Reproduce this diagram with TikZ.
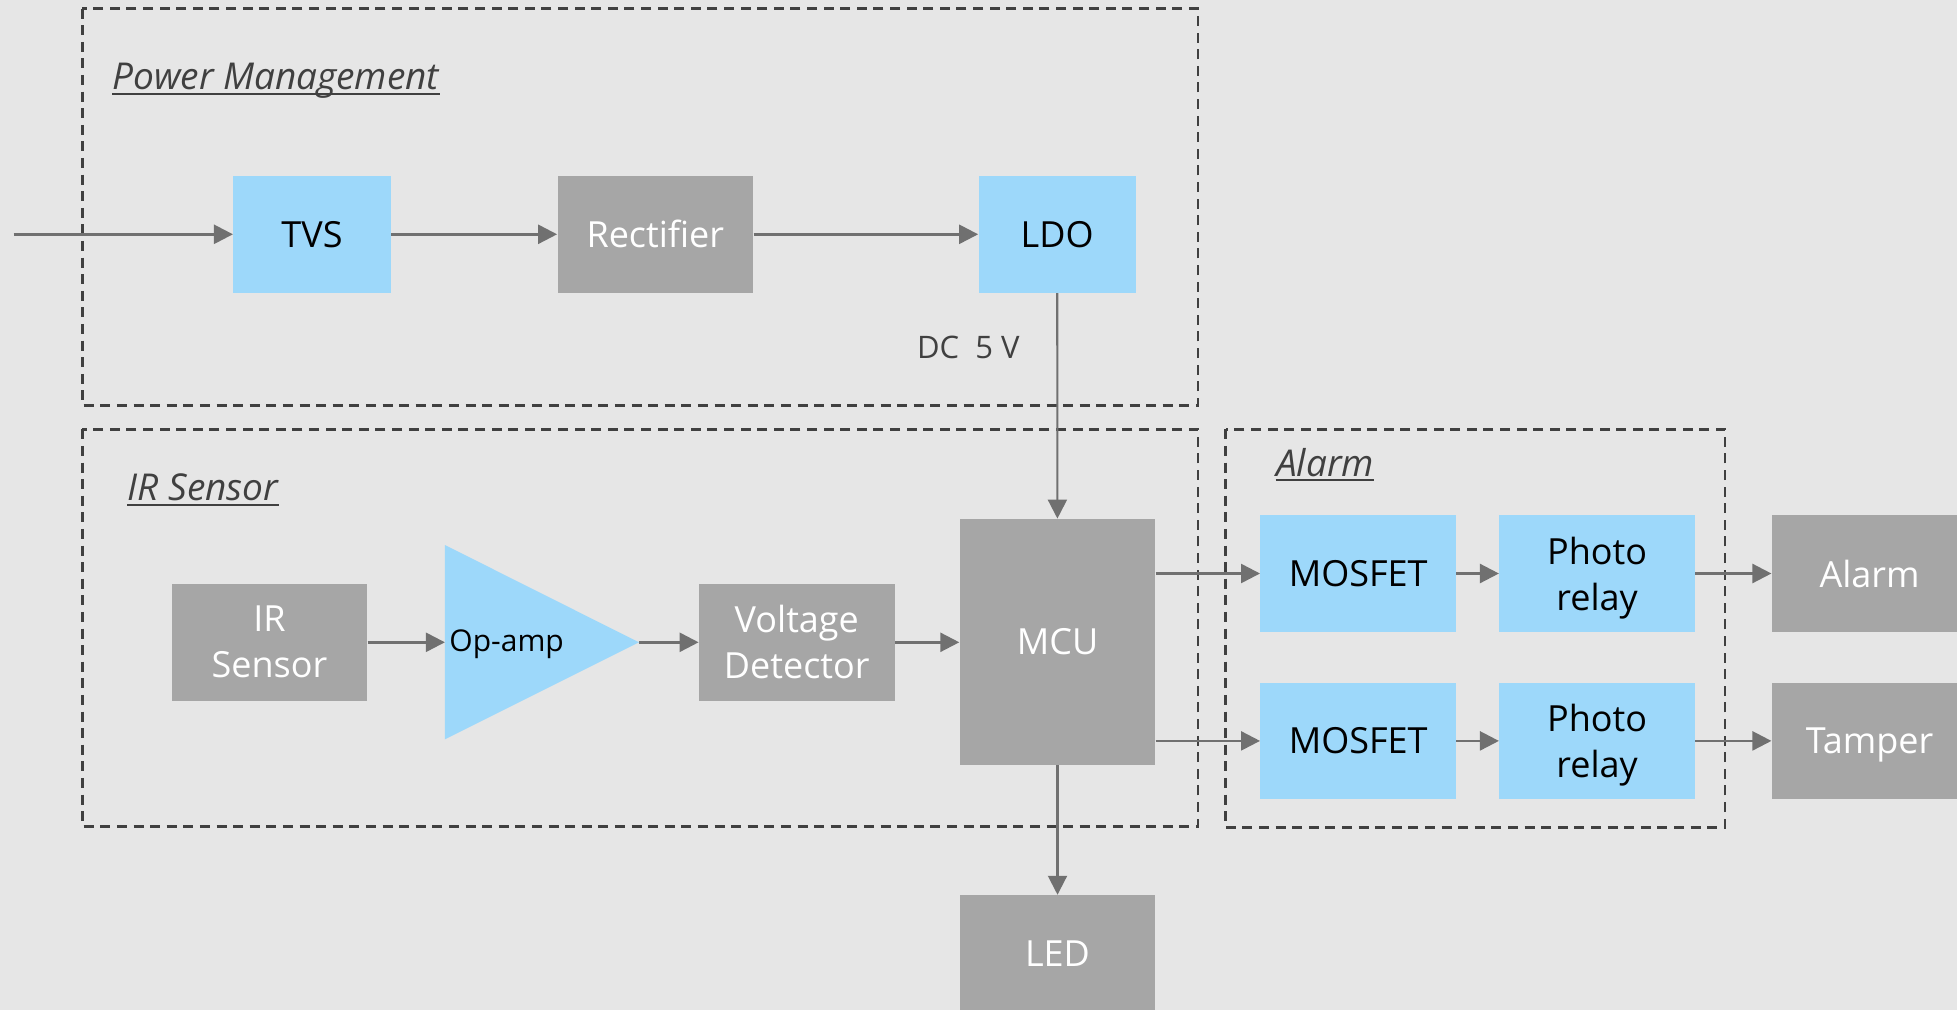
\documentclass[tikz,border=0pt]{standalone}
\usepackage{fontspec}
\setmainfont{Open Sans}
\usetikzlibrary{arrows.meta}
\definecolor{bg}{HTML}{E6E6E6}
\definecolor{boxblue}{HTML}{9DD8FA}
\definecolor{boxgray}{HTML}{A6A6A6}
\definecolor{arrowgray}{HTML}{707070}
\definecolor{dashgray}{HTML}{404040}
\newcommand{\nodepth}[1]{\raisebox{0pt}[\height][0pt]{#1}}
\begin{document}
\begin{tikzpicture}[x=0.5pt,y=-0.5pt,
  blk/.style={rectangle, inner sep=0pt, minimum width=97.8pt, minimum height=58.35pt, align=center, font=\fontsize{18}{23}\selectfont},
  bluebox/.style={blk, fill=boxblue, text=black},
  graybox/.style={blk, fill=boxgray, text=white},
  conn/.style={draw=arrowgray, line width=1.25pt, -{Triangle[length=9.5pt,width=9.5pt]}},
  grp/.style={draw=dashgray, line width=1.3pt, dash pattern=on 5pt off 3.3pt},
  grptitle/.style={inner sep=0pt, text=dashgray, font=\fontsize{18.5}{22}\selectfont\itshape},
  uline/.style={draw=dashgray, line width=1pt}
]
\useasboundingbox (0,0) rectangle (1957,1010);
\clip (0,0) rectangle (1957,1010);
\fill[bg] (0,0) rectangle (1957,1010);

% groups
\draw[grp] (82.4,8.6) rectangle (1198,405.7);
\draw[grp] (82.4,429.3) rectangle (1198,826.4);
\draw[grp] (1225.6,429.3) rectangle (1724.9,827.5);

\node[grptitle, anchor=base west] (tpm) at (112,90) {Power Management};
\draw[uline] ([yshift=-2pt]tpm.base west) -- ([yshift=-2pt]tpm.base east);
\node[grptitle, anchor=base west] (tir) at (127.4,500.7) {IR Sensor};
\draw[uline] ([yshift=-2pt]tir.base west) -- ([yshift=-2pt]tir.base east);
\node[grptitle, anchor=base west] (tal) at (1275.6,476) {Alarm};
\draw[uline] ([yshift=-2pt]tal.base west) -- ([yshift=-2pt]tal.base east);

% power blocks
\node[bluebox, minimum width=78.65pt] (tvs) at (312,234.3) {TVS};
\node[graybox] (rect) at (655.3,234.3) {Rectifier};
\node[bluebox, minimum width=78.65pt] (ldo) at (1057.2,234.3) {LDO};
\coordinate (in) at (13.7,234.3);

\node[inner sep=0pt, anchor=base east, text=dashgray, font=\fontsize{15.5}{18}\selectfont] (dc) at (1020,358.5) {DC\ \ 5 V};

% IR sensor chain
\node[graybox] (irs) at (269.5,642.3) {IR\\Sensor};
\coordinate (opin) at (444.9,642.3);
\coordinate (optip) at (638.9,642.3);
\fill[boxblue] (444.9,545) -- (638.9,642.3) -- (444.9,739.3) -- cycle;
\node[inner sep=0pt, anchor=base west, text=black, font=\fontsize{15}{18}\selectfont] (optxt) at (449,651) {Op-amp};
\node[graybox] (vd) at (796.8,642.3) {Voltage\\Detector};
\node[graybox, minimum height=122.8pt] (mcu) at (1057.5,641.8) {MCU};
\node[graybox] (led) at (1057.5,953.5) {LED};

% alarm chain
\node[bluebox] (m1) at (1358.2,573.5) {MOSFET};
\node[bluebox] (p1) at (1597.1,573.5) {Photo\\\nodepth{relay}};
\node[graybox] (al) at (1869.6,573.5) {Alarm};
\node[bluebox] (m2) at (1358.2,740.9) {MOSFET};
\node[bluebox] (p2) at (1597.1,740.9) {Photo\\\nodepth{relay}};
\node[graybox] (tp) at (1869.6,740.9) {\nodepth{Tamper}};

% connectors
\draw[conn] (in) -- (tvs);
\draw[conn] (tvs) -- (rect);
\draw[conn] (rect) -- (ldo);
\draw[conn, line width=1.05pt] (ldo) -- (mcu);
\draw[conn] (irs) -- (opin);
\draw[conn] (optip) -- (vd);
\draw[conn] (vd.east) -- (vd.east -| mcu.west);
\draw[conn] (m1.west -| mcu.east) -- (m1.west);
\draw[conn] (m2.west -| mcu.east) -- (m2.west);
\draw[conn] (m1) -- (p1);
\draw[conn] (p1) -- (al);
\draw[conn] (m2) -- (p2);
\draw[conn] (p2) -- (tp);
\draw[conn, line width=1.05pt] (mcu) -- (led);
\end{tikzpicture}
\end{document}
